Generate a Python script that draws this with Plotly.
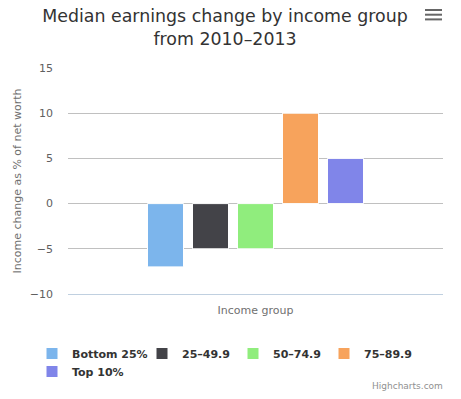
import plotly.graph_objects as go

categories = ["Income group"]
series_names = ["Bottom 25%", "25-49.9", "50-74.9", "75-89.9", "Top 10%"]
series_values = [-7, -5, -5, 10, 5]
colors = ["#7cb5ec", "#434348", "#90ed7d", "#f7a35c", "#8085e9"]
y_ticks = [-10, -5, 0, 5, 10, 15]
legend_groups = ["legend", "legend2", "legend2", "legend2", "legend3"]

W, H = 461, 399
L, R, T, B = 68, 18, 68, 105

fig = go.Figure()
for name, val, col, lg in zip(series_names, series_values, colors, legend_groups):
    fig.add_trace(go.Bar(
        x=categories, y=[val], name=name.replace("-", "–"),
        marker=dict(color=col, line=dict(color="#ffffff", width=1)),
        hoverinfo="skip", legend=lg,
    ))

font_family = "DejaVu Sans, Verdana, sans-serif"
legend_font = dict(size=11, color="#333333", family=font_family, weight="bold")

def legend_at(x_px, y_px, **kw):
    return dict(
        orientation="h", x=x_px / W, xanchor="left", xref="container",
        y=1 - y_px / H, yref="container", yanchor="top",
        font=legend_font, traceorder="normal", bgcolor="rgba(0,0,0,0)",
        itemclick=False, itemdoubleclick=False, **kw,
    )

fig.update_layout(
    width=W, height=H,
    margin=dict(l=L, r=R, t=T, b=B, autoexpand=False),
    paper_bgcolor="white", plot_bgcolor="white",
    barmode="group", bargap=0.4, bargroupgap=0.2,
    font=dict(family=font_family, color="#333333"),
    title=dict(
        text="Median earnings change by income group<br>from 2010–2013",
        x=225 / W, xref="container", xanchor="center",
        y=1 - 22 / H, yref="container", yanchor="middle",
        font=dict(size=17.4, color="#333333", family=font_family),
    ),
    xaxis=dict(
        showticklabels=False, showgrid=False, zeroline=False,
        showline=True, linecolor="#C0D0E0", linewidth=1,
        title=dict(text="Income group", font=dict(size=11, color="#707070"), standoff=12),
        automargin=False, fixedrange=True,
    ),
    yaxis=dict(
        range=[-10, 15], tickvals=y_ticks, ticktext=[str(v).replace("-", "−") for v in y_ticks],
        showgrid=True, gridcolor="#C0C0C0", gridwidth=1,
        zeroline=True, zerolinecolor="#C0C0C0", zerolinewidth=1,
        showline=False,
        tickfont=dict(size=11, color="#606060"),
        ticklabelstandoff=14,
        title=dict(text="Income change as % of net worth", font=dict(size=11, color="#707070"), standoff=5),
        automargin=False, fixedrange=True,
    ),
    legend=legend_at(32, 339),
    legend2=legend_at(142, 339, entrywidth=46),
    legend3=legend_at(32, 357),
    showlegend=True,
)

# credits
fig.add_annotation(
    text="Highcharts.com", xref="paper", yref="paper",
    x=1.005, y=-(386 - 294) / (H - T - B), xanchor="right", yanchor="middle",
    showarrow=False, font=dict(size=9, color="#909090", family=font_family),
)

# context menu icon (three bars)
for yy in [10, 14.7, 19.4]:
    fig.add_shape(
        type="line", xref="paper", yref="paper",
        x0=(425 - L) / (W - L - R), x1=(442 - L) / (W - L - R),
        y0=1 + (T - yy) / (H - T - B), y1=1 + (T - yy) / (H - T - B),
        line=dict(color="#666666", width=2),
    )

fig.write_html("out.html", config={"displayModeBar": False},
               post_script="document.body.style.margin='0px';")
